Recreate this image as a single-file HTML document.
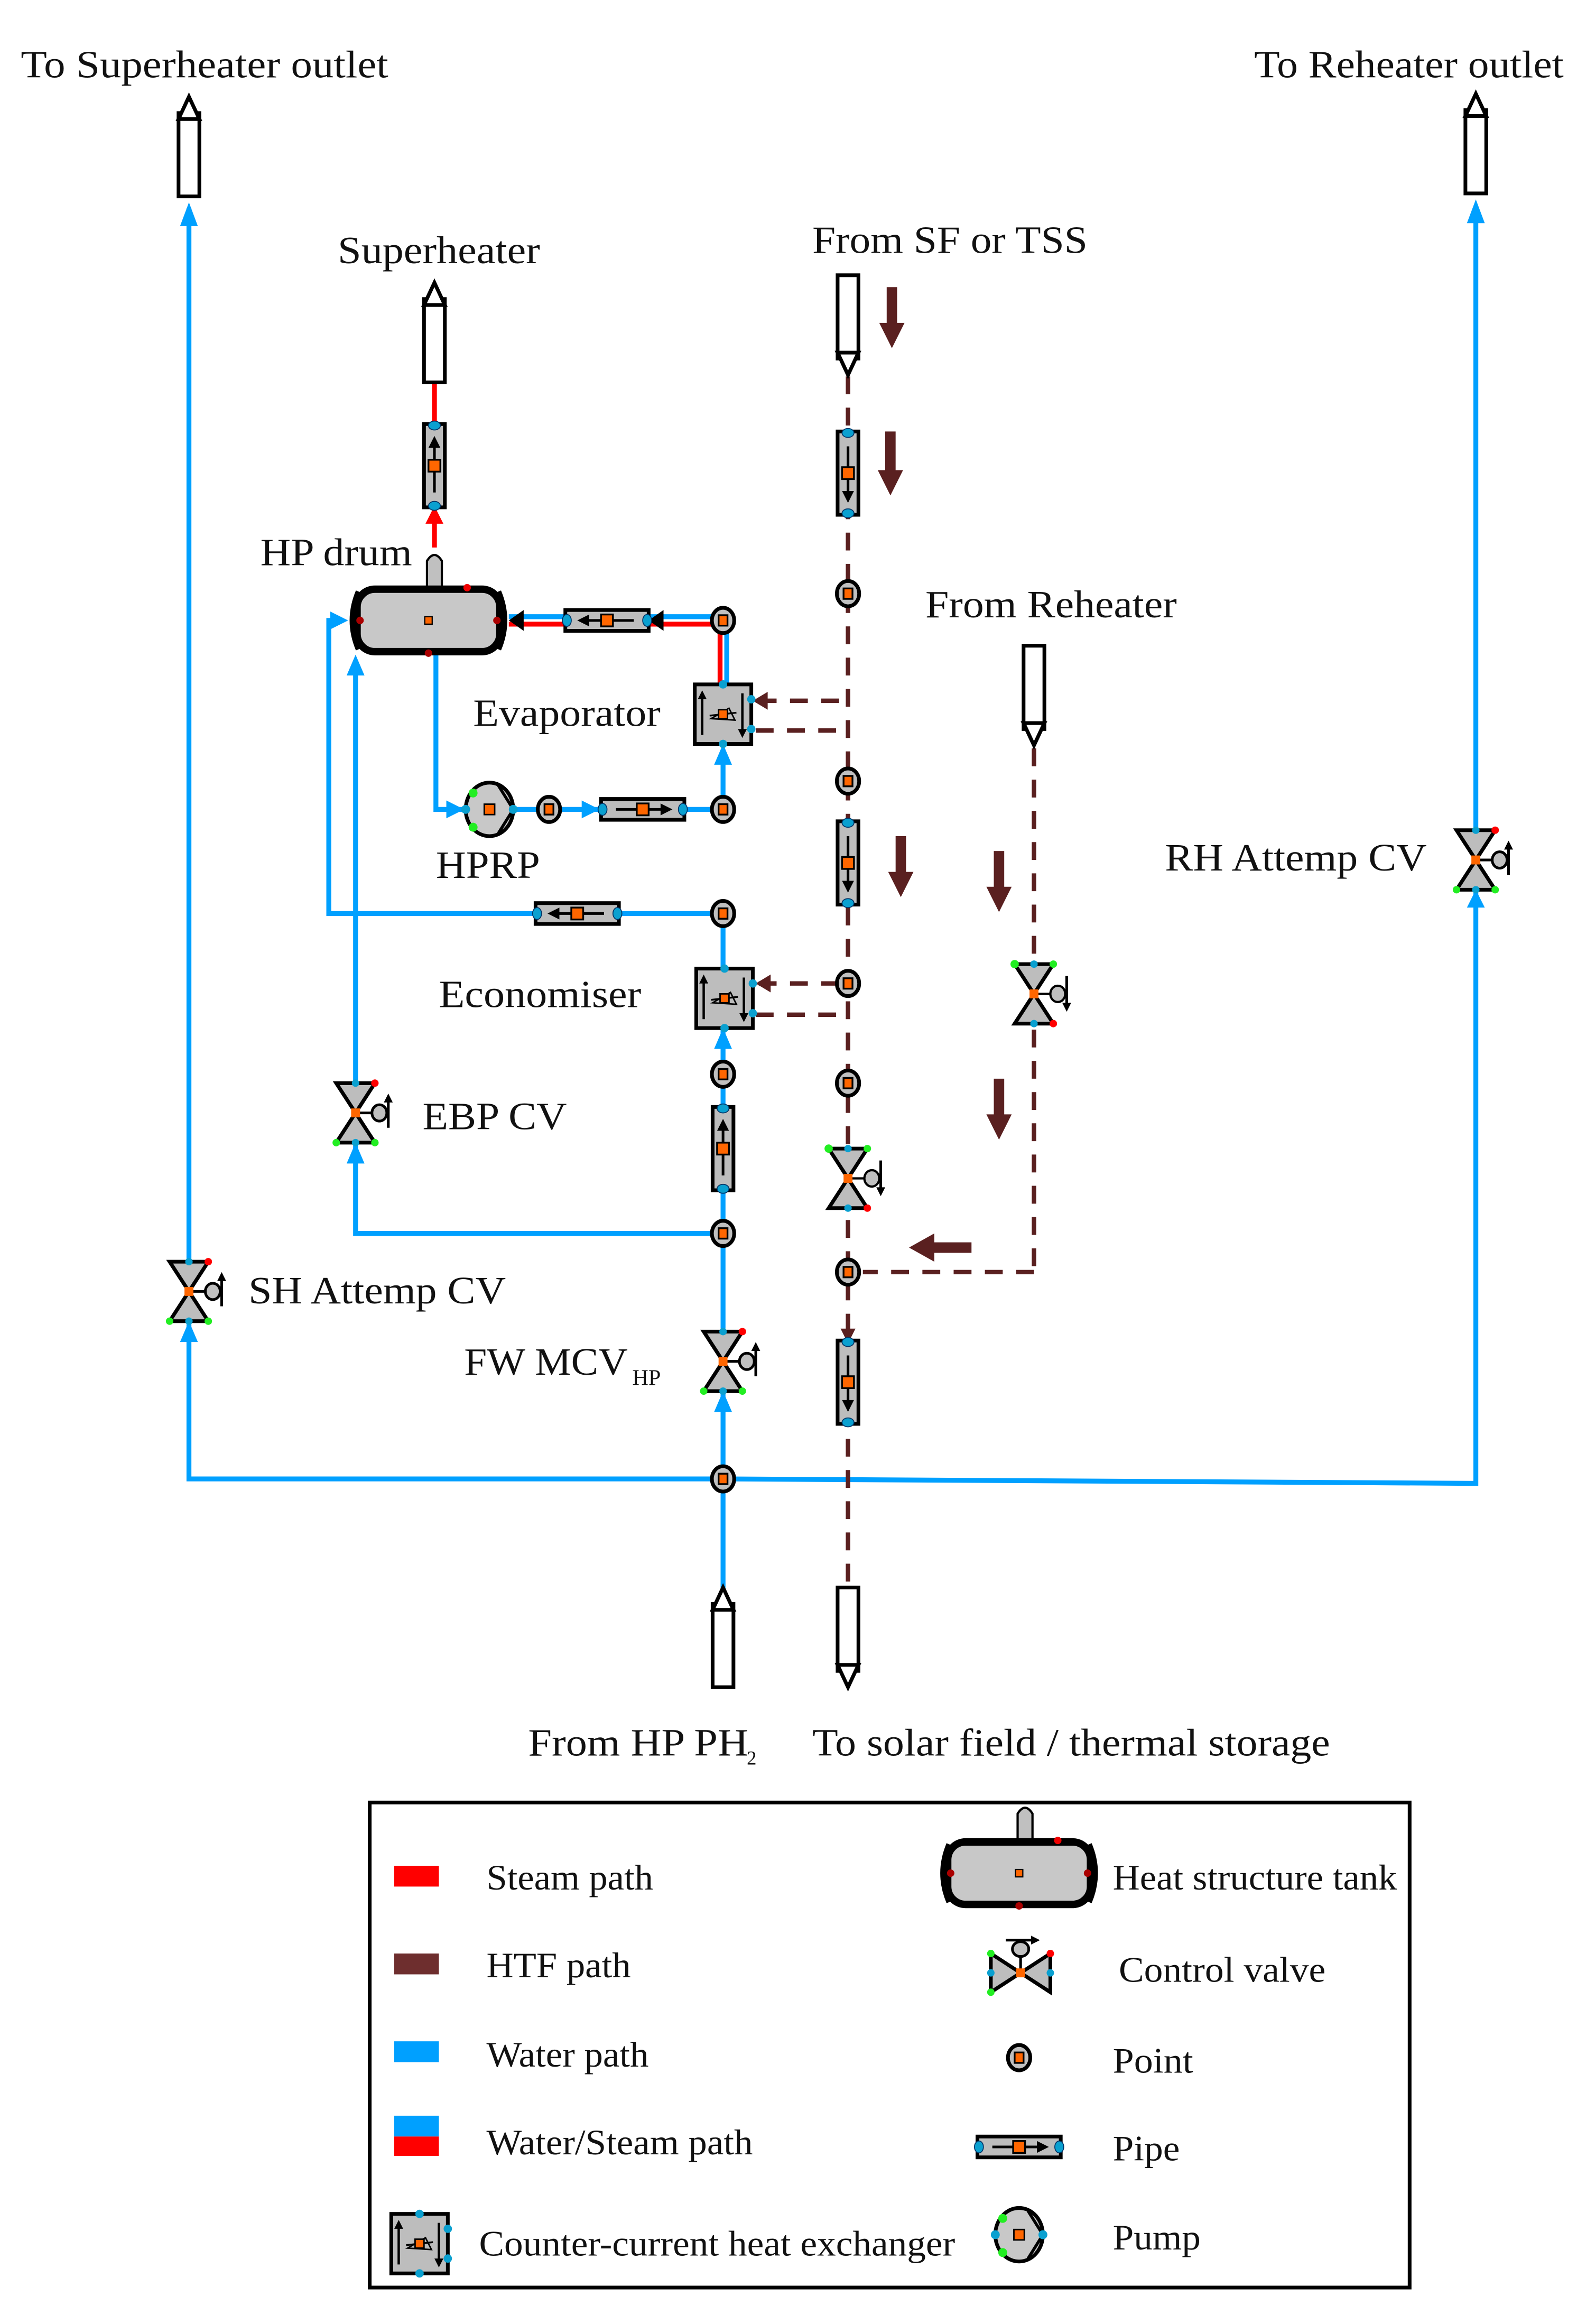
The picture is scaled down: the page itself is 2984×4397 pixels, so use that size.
<!DOCTYPE html>
<html><head><meta charset="utf-8"><style>
html,body{margin:0;padding:0;background:#fff;}
svg{display:block;}
text{font-family:"Liberation Serif",serif;fill:#111;}
</style></head><body>
<svg xmlns="http://www.w3.org/2000/svg" width="2984" height="4397" viewBox="0 0 1060 1562" preserveAspectRatio="none">
<defs>
<g id="pt"><ellipse cx="0" cy="0" rx="7.5" ry="8.5" fill="#c0c0c0" stroke="#000" stroke-width="2.5"/><rect x="-3" y="-3.5" width="6" height="7" fill="#ff6600" stroke="#000" stroke-width="1.2"/></g>
<g id="pipeH"><rect x="-28" y="-7" width="56" height="14" fill="#bdbdbd" stroke="#000" stroke-width="2.5"/><line x1="-18" y1="0" x2="14" y2="0" stroke="#000" stroke-width="1.8"/><polygon points="20,0 12,-4 12,4" fill="#000"/><rect x="-4" y="-4" width="8" height="8" fill="#ff6600" stroke="#000" stroke-width="1.2"/><ellipse cx="-27" cy="0" rx="3" ry="4" fill="#0aa0d0" stroke="#036" stroke-width=".6"/><ellipse cx="27" cy="0" rx="3" ry="4" fill="#0aa0d0" stroke="#036" stroke-width=".6"/></g>
<g id="pipeV"><g transform="rotate(90)"><use href="#pipeH"/></g></g>
<g id="pipeVU"><g transform="rotate(-90)"><use href="#pipeH"/></g></g>
<g id="hx"><rect x="-19" y="-20" width="38" height="40" fill="#bdbdbd" stroke="#000" stroke-width="2.5"/><line x1="-14" y1="14" x2="-14" y2="-12" stroke="#000" stroke-width="1.6"/><polygon points="-14,-16 -17,-10 -11,-10" fill="#000"/><line x1="13" y1="-14" x2="13" y2="12" stroke="#000" stroke-width="1.6"/><polygon points="13,16 10,10 16,10" fill="#000"/><line x1="-9" y1="1" x2="9" y2="-1" stroke="#000" stroke-width="1.2"/><polygon points="-8,3 4,-4 8,4" fill="none" stroke="#000" stroke-width="1"/><rect x="-3" y="-3" width="6" height="6" fill="#ff6600" stroke="#000" stroke-width="1"/><circle cx="0" cy="-20" r="2.8" fill="#0aa0d0"/><circle cx="0" cy="20" r="2.8" fill="#0aa0d0"/><circle cx="19" cy="-10" r="2.8" fill="#0aa0d0"/><circle cx="19" cy="10" r="2.8" fill="#0aa0d0"/></g>
<g id="valve"><polygon points="-13,-20 13,-20 -13,20 13,20" fill="#bdbdbd" stroke="#000" stroke-width="2.5" stroke-linejoin="miter"/><line x1="0" y1="0" x2="12" y2="0" stroke="#000" stroke-width="1.8"/><ellipse cx="16" cy="0" rx="5" ry="5.5" fill="#c0c0c0" stroke="#000" stroke-width="1.8"/><line x1="22" y1="10" x2="22" y2="-9" stroke="#000" stroke-width="1.8"/><polygon points="22,-13 19,-7 25,-7" fill="#000"/><rect x="-3" y="-3" width="6" height="6" fill="#ff6600"/><circle cx="0" cy="-20" r="2.5" fill="#0aa0d0"/><circle cx="0" cy="20" r="2.5" fill="#0aa0d0"/><circle cx="13" cy="-20" r="2.5" fill="#f00"/><circle cx="-13" cy="20" r="2.5" fill="#2e2"/><circle cx="13" cy="20" r="2.5" fill="#2e2"/></g>
<g id="valveD"><polygon points="-13,-20 13,-20 -13,20 13,20" fill="#bdbdbd" stroke="#000" stroke-width="2.5"/><line x1="0" y1="0" x2="12" y2="0" stroke="#000" stroke-width="1.5"/><ellipse cx="16" cy="0" rx="5" ry="5.5" fill="#c0c0c0" stroke="#000" stroke-width="1.5"/><line x1="22" y1="-12" x2="22" y2="7" stroke="#000" stroke-width="1.8"/><polygon points="22,12 19,6 25,6" fill="#000"/><rect x="-3" y="-3" width="6" height="6" fill="#ff6600"/><circle cx="0" cy="-20" r="2.5" fill="#0aa0d0"/><circle cx="0" cy="20" r="2.5" fill="#0aa0d0"/><circle cx="-13" cy="-20" r="2.8" fill="#2e2"/><circle cx="13" cy="-20" r="2.5" fill="#2e2"/><circle cx="13" cy="20" r="2.5" fill="#f00"/></g>
<g id="termUp"><rect x="-7" y="-24" width="14" height="56" fill="#fff" stroke="#000" stroke-width="2.5"/><polygon points="0,-35 -7,-20 7,-20" fill="#fff" stroke="#000" stroke-width="2.5"/></g>
<g id="termDn"><rect x="-7" y="-32" width="14" height="56" fill="#fff" stroke="#000" stroke-width="2.5"/><polygon points="0,35 -7,20 7,20" fill="#fff" stroke="#000" stroke-width="2.5"/></g>
<g id="tank"><path d="M-1,-22 V-40 Q4,-48 9,-40 V-22 Z" fill="#c0c0c0" stroke="#000" stroke-width="1.5"/><rect x="-48" y="-21" width="96" height="42" rx="12" fill="#c8c8c8" stroke="#000" stroke-width="5"/><path d="M-46,-19 Q-54,0 -46,19 M46,-19 Q54,0 46,19" stroke="#000" stroke-width="6" fill="none"/><rect x="-2.5" y="-2.5" width="5" height="5" fill="#ff6600" stroke="#000" stroke-width=".8"/><circle cx="-46" cy="0" r="2.5" fill="#a00"/><circle cx="46" cy="0" r="2.5" fill="#a00"/><circle cx="26" cy="-22" r="2.5" fill="#e00"/><circle cx="0" cy="22" r="2.5" fill="#a00"/></g>
<g id="pump"><ellipse cx="0" cy="0" rx="16" ry="18" fill="#c8c8c8" stroke="#000" stroke-width="2.5"/><line x1="6" y1="-16" x2="16" y2="0" stroke="#000" stroke-width="2"/><line x1="6" y1="16" x2="16" y2="0" stroke="#000" stroke-width="2"/><rect x="-3.5" y="-3.5" width="7" height="7" fill="#ff6600" stroke="#000" stroke-width="1"/><circle cx="-16" cy="0" r="3" fill="#0aa0d0"/><circle cx="16" cy="0" r="3" fill="#0aa0d0"/><circle cx="-11" cy="-11" r="3" fill="#2e2"/><circle cx="-11" cy="12" r="3" fill="#2e2"/></g>
</defs>

<g stroke="#00a0ff" stroke-width="3.3" fill="none">
<polyline points="486,1068 486,994 127,994 127,890"/>
<line x1="127" y1="848" x2="127" y2="140"/>
<polyline points="486,994 992,997 992,600"/>
<line x1="992" y1="556" x2="992" y2="140"/>
<line x1="486" y1="994" x2="486" y2="937"/>
<line x1="486" y1="893" x2="486" y2="691"/>
<polyline points="486,829 239,829 239,770"/>
<line x1="239" y1="728" x2="239" y2="445"/>
<polyline points="486,614 221,614 221,417 230,417"/>
<line x1="486" y1="614" x2="486" y2="652"/>
<polyline points="293,438 293,544 312,544"/>
<line x1="345" y1="544" x2="486" y2="544"/>
<line x1="486" y1="544" x2="486" y2="505"/>
<line x1="342" y1="414.5" x2="486" y2="414.5"/>
<line x1="488.5" y1="417" x2="488.5" y2="460"/>
</g>
<g stroke="#ff0000" stroke-width="3.3" fill="none">
<line x1="342" y1="419.5" x2="486" y2="419.5"/>
<line x1="484" y1="420" x2="484" y2="460"/>
<line x1="292" y1="257" x2="292" y2="285"/>
<line x1="292" y1="340" x2="292" y2="368"/>
</g>
<g fill="#00a0ff">
<polygon points="127,136 121,152 133,152"/>
<polygon points="992,134 986,150 998,150"/>
<polygon points="127,888 121,902 133,902"/>
<polygon points="992,598 986,610 998,610"/>
<polygon points="239,768 233,782 245,782"/>
<polygon points="239,440 233,454 245,454"/>
<polygon points="486,935 480,949 492,949"/>
<polygon points="486,691 480,705 492,705"/>
<polygon points="486,500 480,514 492,514"/>
<polygon points="234,417 222,411 222,423"/>
<polygon points="312,544 300,538 300,550"/>
<polygon points="403,544 391,538 391,550"/>
<polygon points="360,614 372,608 372,620"/>
</g>
<polygon points="292,340 286,352 298,352" fill="#f00"/>
<polygon points="380,417 392,410 392,424" fill="#000"/>
<polygon points="342,417 352,410 352,424" fill="#000"/>
<polygon points="436,417 446,410 446,424" fill="#000"/>

<g stroke="#5a2020" stroke-width="3" fill="none" stroke-dasharray="12,9">
<line x1="570" y1="253" x2="570" y2="1064"/>
<line x1="695" y1="503" x2="695" y2="855"/>
<line x1="695" y1="855" x2="580" y2="855"/>
<line x1="510" y1="471" x2="570" y2="471"/>
<line x1="508" y1="491" x2="570" y2="491"/>
<line x1="510" y1="661" x2="570" y2="661"/>
<line x1="508" y1="682" x2="570" y2="682"/>
</g>
<g fill="#5a2020">
<polygon points="506,471 516,465 516,477"/>
<polygon points="508,661 518,655 518,667"/>
<polygon points="570,783 565,773 575,773"/>
<polygon points="570,903 565,893 575,893"/>
<path d="M596,193 h7 v24 h5 l-8.5,17 l-8.5,-17 h5z"/>
<path d="M595,290 h7 v26 h5 l-8.5,17 l-8.5,-17 h5z"/>
<path d="M602,562 h7 v24 h5 l-8.5,17 l-8.5,-17 h5z"/>
<path d="M668,572 h7 v24 h5 l-8.5,17 l-8.5,-17 h5z"/>
<path d="M668,725 h7 v24 h5 l-8.5,17 l-8.5,-17 h5z"/>
<path d="M653,835 v7 h-25 v6 l-17,-9.5 l17,-9.5 v6z"/>
</g>

<use href="#termUp" x="127" y="100"/>
<use href="#termUp" x="992" y="98"/>
<use href="#termUp" x="292" y="225"/>
<use href="#termUp" x="486" y="1102"/>
<use href="#termDn" x="570" y="217"/>
<use href="#termDn" x="695" y="466"/>
<use href="#termDn" x="570" y="1099"/>
<use href="#pipeVU" x="292" y="313"/>
<use href="#pipeV" x="570" y="318"/>
<use href="#pipeV" x="570" y="580"/>
<use href="#pipeVU" x="486" y="772"/>
<use href="#pipeV" x="570" y="929"/>
<g transform="translate(408 417) scale(-1 1)"><use href="#pipeH"/></g>
<use href="#pipeH" x="432" y="544"/>
<g transform="translate(388 614) scale(-1 1)"><use href="#pipeH"/></g>
<use href="#tank" x="288" y="417"/>
<use href="#pump" x="329" y="544"/>
<use href="#hx" x="486" y="480"/>
<use href="#hx" x="487" y="671"/>
<use href="#pt" x="486" y="417"/>
<use href="#pt" x="486" y="544"/>
<use href="#pt" x="369" y="544"/>
<use href="#pt" x="486" y="614"/>
<use href="#pt" x="486" y="722"/>
<use href="#pt" x="486" y="829"/>
<use href="#pt" x="486" y="994"/>
<use href="#pt" x="570" y="399"/>
<use href="#pt" x="570" y="525"/>
<use href="#pt" x="570" y="661"/>
<use href="#pt" x="570" y="728"/>
<use href="#pt" x="570" y="855"/>
<use href="#valve" x="127" y="868"/>
<use href="#valve" x="239" y="748"/>
<use href="#valve" x="486" y="915"/>
<use href="#valve" x="992" y="578"/>
<use href="#valveD" x="570" y="792"/>
<use href="#valveD" x="695" y="668"/>

<g font-size="26">
<text x="14" y="52" textLength="247" lengthAdjust="spacingAndGlyphs">To Superheater outlet</text>
<text x="843" y="52" textLength="208" lengthAdjust="spacingAndGlyphs">To Reheater outlet</text>
<text x="227" y="177" textLength="136" lengthAdjust="spacingAndGlyphs">Superheater</text>
<text x="546" y="170" textLength="185" lengthAdjust="spacingAndGlyphs">From SF or TSS</text>
<text x="175" y="380" textLength="102" lengthAdjust="spacingAndGlyphs">HP drum</text>
<text x="622" y="415" textLength="169" lengthAdjust="spacingAndGlyphs">From Reheater</text>
<text x="318" y="488" textLength="126" lengthAdjust="spacingAndGlyphs">Evaporator</text>
<text x="293" y="590" textLength="70" lengthAdjust="spacingAndGlyphs">HPRP</text>
<text x="783" y="585" textLength="176" lengthAdjust="spacingAndGlyphs">RH Attemp CV</text>
<text x="295" y="677" textLength="136" lengthAdjust="spacingAndGlyphs">Economiser</text>
<text x="284" y="759" textLength="97" lengthAdjust="spacingAndGlyphs">EBP CV</text>
<text x="167" y="876" textLength="173" lengthAdjust="spacingAndGlyphs">SH Attemp CV</text>
<text x="312" y="924" textLength="110" lengthAdjust="spacingAndGlyphs">FW MCV</text>
<text x="425" y="931" font-size="15">HP</text>
<text x="355" y="1180" textLength="148" lengthAdjust="spacingAndGlyphs">From HP PH</text>
<text x="502" y="1186" font-size="13">2</text>
<text x="546" y="1180" textLength="348" lengthAdjust="spacingAndGlyphs">To solar field / thermal storage</text>
</g>

<rect x="248.5" y="1211.5" width="699" height="326" fill="none" stroke="#000" stroke-width="2.5"/>
<rect x="265" y="1254" width="30" height="14" fill="#ff0000"/>
<rect x="265" y="1313" width="30" height="14" fill="#6e2e2e"/>
<rect x="265" y="1372" width="30" height="14" fill="#00a0ff"/>
<rect x="265" y="1422" width="30" height="14" fill="#00a0ff"/>
<rect x="265" y="1436" width="30" height="13" fill="#ff0000"/>
<g font-size="24">
<text x="327" y="1270" textLength="112" lengthAdjust="spacingAndGlyphs">Steam path</text>
<text x="327" y="1329" textLength="97" lengthAdjust="spacingAndGlyphs">HTF path</text>
<text x="327" y="1389" textLength="109" lengthAdjust="spacingAndGlyphs">Water path</text>
<text x="327" y="1448" textLength="179" lengthAdjust="spacingAndGlyphs">Water/Steam path</text>
<text x="322" y="1516" textLength="320" lengthAdjust="spacingAndGlyphs">Counter-current heat exchanger</text>
<text x="748" y="1270" textLength="191" lengthAdjust="spacingAndGlyphs">Heat structure tank</text>
<text x="752" y="1332" textLength="139" lengthAdjust="spacingAndGlyphs">Control valve</text>
<text x="748" y="1393" textLength="54" lengthAdjust="spacingAndGlyphs">Point</text>
<text x="748" y="1452" textLength="45" lengthAdjust="spacingAndGlyphs">Pipe</text>
<text x="748" y="1512" textLength="59" lengthAdjust="spacingAndGlyphs">Pump</text>
</g>
<use href="#hx" x="282" y="1508"/>
<use href="#tank" x="685" y="1259"/>
<g transform="translate(686 1326) rotate(-90) scale(1 -1)"><use href="#valve"/></g>
<use href="#pt" x="685" y="1383"/>
<use href="#pipeH" x="685" y="1443"/>
<use href="#pump" x="685" y="1502"/>
</svg>
</body></html>
